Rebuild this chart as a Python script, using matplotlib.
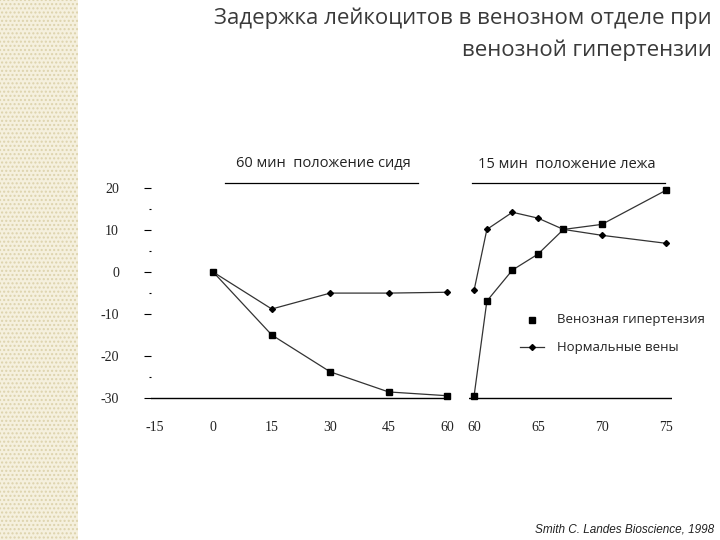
import matplotlib
matplotlib.use("Agg")
import matplotlib.pyplot as plt
from matplotlib.patches import Rectangle
from matplotlib.lines import Line2D

plt.rcParams['font.family'] = ['Open Sans', 'DejaVu Sans']
plt.rcParams['axes.unicode_minus'] = False

left_x = [0, 15, 30, 45, 60]
left_hyp = [0, -15, -23.8, -28.6, -29.5]
left_norm = [0, -8.8, -5, -5, -4.8]
right_x = [60, 61, 63, 65, 67, 70, 75]
right_hyp = [-29.5, -6.9, 0.5, 4.3, 10.2, 11.4, 19.5]
right_norm = [-4.3, 10.2, 14.3, 12.9, 10.2, 8.8, 6.9]
left_ticks = [-15, 0, 15, 30, 45, 60]
right_ticks = [60, 65, 70, 75]
y_ticks = [20, 10, 0, -10, -20, -30]

W, H = 720, 540
fig = plt.figure(figsize=(7.2, 5.4), dpi=100)

def fx(px): return px / W
def fy(py): return 1 - py / H

fig.patches.append(Rectangle((0, 0), fx(78), 1, transform=fig.transFigure,
                             facecolor='#f5f0de', edgecolor='#ddd3ac', hatch='....', lw=0))

ybot, ytop = fy(402), fy(180)
axL = fig.add_axes([fx(151), ybot, fx(451) - fx(151), ytop - ybot])
axR = fig.add_axes([fx(469), ybot, fx(672) - fx(469), ytop - ybot])

for ax in (axL, axR):
    ax.set_ylim(-31, 22)
    for s in ax.spines.values():
        s.set_visible(False)
    ax.axhline(-30, color='black', lw=1)
    ax.tick_params(axis='x', length=0, pad=14, labelsize=10)
    ax.patch.set_alpha(0)

axL.set_xlim(-16, 61)
axR.set_xlim(59.6, 75.5)
axL.set_xticks(left_ticks)
axR.set_xticks(right_ticks)
for ax in (axL, axR):
    for lab in ax.get_xticklabels():
        lab.set_fontfamily(['Liberation Serif', 'DejaVu Serif'])
        lab.set_color('#222222')

axL.set_yticks(y_ticks)
axL.set_yticklabels([str(v) for v in y_ticks], fontfamily=['Liberation Serif', 'DejaVu Serif'],
                    fontsize=10, color='#222222')
axL.set_yticks([15, 5, -5, -25], minor=True)
axL.tick_params(axis='y', which='major', length=5, width=0.8, pad=18, direction='out')
axL.tick_params(axis='y', which='minor', length=1.5, width=0.8, direction='out')
axR.set_yticks([])

kw_h = dict(color='#333333', lw=0.9, marker='s', ms=5, mfc='black', mec='black')
kw_n = dict(color='#333333', lw=0.9, marker='D', ms=3, mfc='black', mec='black')
axL.plot(left_x, left_hyp, **kw_h)
axL.plot(left_x, left_norm, **kw_n)
axR.plot(right_x, right_hyp, **kw_h)
axR.plot(right_x, right_norm, **kw_n)

fig.text(fx(323), fy(164), '60 мин  положение сидя', ha='center', va='center', fontsize=10.5, color='#222222')
fig.add_artist(Line2D([fx(225), fx(418)], [fy(183), fy(183)], color='black', lw=0.9))
fig.text(fx(567), fy(164), '15 мин  положение лежа', ha='center', va='center', fontsize=10.5, color='#222222')
fig.add_artist(Line2D([fx(472), fx(665)], [fy(183), fy(183)], color='black', lw=0.9))

fig.add_artist(Line2D([fx(532)], [fy(320)], marker='s', ms=4, color='black', lw=0))
fig.text(fx(557), fy(320), 'Венозная гипертензия', va='center', fontsize=9.5, color='#222222')
fig.add_artist(Line2D([fx(520), fx(544)], [fy(347), fy(347)], color='#333333', lw=0.9))
fig.add_artist(Line2D([fx(532)], [fy(347)], marker='D', ms=3, color='black', lw=0))
fig.text(fx(557), fy(347), 'Нормальные вены', va='center', fontsize=9.5, color='#222222')

fig.text(fx(712), fy(18), 'Задержка лейкоцитов в венозном отделе при', ha='right', va='center',
         fontsize=16, color='#3a3a3a')
fig.text(fx(712), fy(50), 'венозной гипертензии', ha='right', va='center', fontsize=16, color='#3a3a3a')

fig.text(fx(714), fy(529), 'Smith C. Landes Bioscience, 1998', ha='right', va='center',
         fontsize=8.5, style='italic', fontfamily=['Liberation Sans', 'DejaVu Sans'], color='#222222')

fig.savefig('out.png', dpi=100)
